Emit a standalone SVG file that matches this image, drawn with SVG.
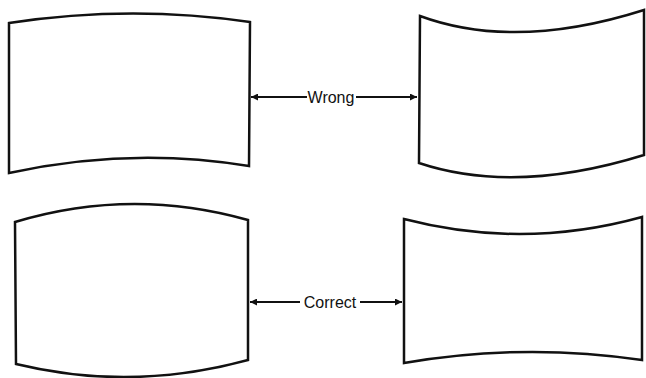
<svg xmlns="http://www.w3.org/2000/svg" width="646" height="378" viewBox="0 0 646 378">
<style>
.shape{fill:#fff;stroke:#111;stroke-width:2.5;stroke-linejoin:miter}
.conn{stroke:#111;stroke-width:1.8;fill:none}
.lbl{font-family:"Liberation Sans",Arial,sans-serif;font-size:16px;fill:#111}
</style>
<defs>
<marker id="ah" viewBox="0 0 10 10" refX="10" refY="5" markerWidth="11" markerHeight="7" markerUnits="userSpaceOnUse" orient="auto-start-reverse">
<path d="M0,0 L10,5 L0,10 z" fill="#111"/>
</marker>
</defs>
<rect width="646" height="378" fill="#fff"/>
<g id="wrong-left">
<path class="shape" d="M9,23 Q130,4.5 250,22 L249,166 Q130,146.5 9,173 Z"/>
</g>
<g id="wrong-right">
<path class="shape" d="M420,16 Q515,51 644,10 L644,155 Q515,195 419,163 Z"/>
</g>
<g id="correct-left">
<path class="shape" d="M15,222 Q131,187 248,220 L248,360 Q131,392 16,364 Z"/>
</g>
<g id="correct-right">
<path class="shape" d="M404,219 Q523,250 642,217 L642,360 Q523,342.5 404,363 Z"/>
</g>
<g id="connectors">
<line class="conn" x1="307" y1="97" x2="251" y2="97" marker-end="url(#ah)"/>
<line class="conn" x1="356" y1="97" x2="417" y2="97" marker-end="url(#ah)"/>
<line class="conn" x1="300" y1="302" x2="250" y2="302" marker-end="url(#ah)"/>
<line class="conn" x1="360" y1="302" x2="402" y2="302" marker-end="url(#ah)"/>
</g>
<g id="labels">
<text class="lbl" x="331" y="102.5" text-anchor="middle">Wrong</text>
<text class="lbl" x="330" y="307.5" text-anchor="middle">Correct</text>
</g>
</svg>
